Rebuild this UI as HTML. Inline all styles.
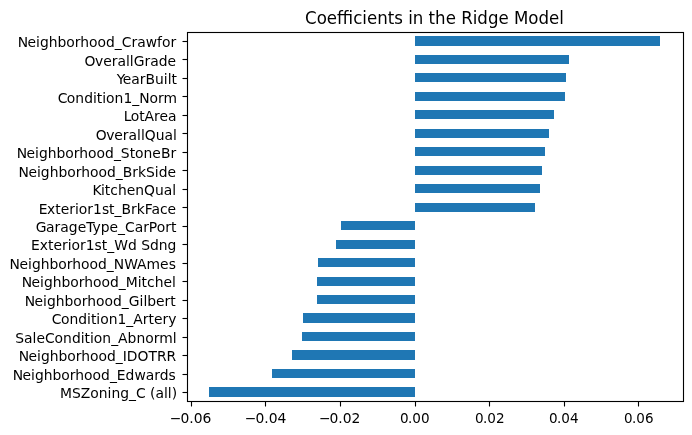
<!DOCTYPE html>
<html lang="en">
<head>
<meta charset="utf-8">
<title>Coefficients in the Ridge Model</title>
<style>
html,body{margin:0;padding:0;background:#fff;}
body{width:692px;height:435px;overflow:hidden;}
svg{display:block;}
text{font-family:"DejaVu Sans","Liberation Sans",sans-serif;fill:#000;}
.tick{font-size:13.889px;}
.title{font-size:16.667px;}
.bar{fill:#1f77b4;}
.ln{stroke:#000;stroke-width:1.111;fill:none;}
</style>
</head>
<body>
<svg width="692" height="435" viewBox="0 0 692 435">
<rect x="0" y="0" width="692" height="435" fill="#ffffff"/>
<g id="bars">
<rect class="bar" x="209" y="387" width="206" height="10"/>
<rect class="bar" x="272" y="369" width="143" height="9"/>
<rect class="bar" x="292" y="350" width="123" height="10"/>
<rect class="bar" x="302" y="332" width="113" height="9"/>
<rect class="bar" x="303" y="313" width="112" height="10"/>
<rect class="bar" x="317" y="295" width="98" height="9"/>
<rect class="bar" x="317" y="277" width="98" height="9"/>
<rect class="bar" x="318" y="258" width="97" height="9"/>
<rect class="bar" x="336" y="240" width="79" height="9"/>
<rect class="bar" x="341" y="221" width="74" height="9"/>
<rect class="bar" x="415" y="203" width="120" height="9"/>
<rect class="bar" x="415" y="184" width="125" height="9"/>
<rect class="bar" x="415" y="166" width="127" height="9"/>
<rect class="bar" x="415" y="147" width="130" height="9"/>
<rect class="bar" x="415" y="129" width="134" height="9"/>
<rect class="bar" x="415" y="110" width="139" height="9"/>
<rect class="bar" x="415" y="92" width="150" height="9"/>
<rect class="bar" x="415" y="73" width="151" height="9"/>
<rect class="bar" x="415" y="55" width="154" height="9"/>
<rect class="bar" x="415" y="36" width="245" height="10"/>
</g>
<g id="ticks">
<line class="ln" x1="191.5" y1="401.5" x2="191.5" y2="406.5"/>
<line class="ln" x1="265.5" y1="401.5" x2="265.5" y2="406.5"/>
<line class="ln" x1="340.5" y1="401.5" x2="340.5" y2="406.5"/>
<line class="ln" x1="415.5" y1="401.5" x2="415.5" y2="406.5"/>
<line class="ln" x1="489.5" y1="401.5" x2="489.5" y2="406.5"/>
<line class="ln" x1="564.5" y1="401.5" x2="564.5" y2="406.5"/>
<line class="ln" x1="638.5" y1="401.5" x2="638.5" y2="406.5"/>
<line class="ln" x1="182.5" y1="392.5" x2="187.5" y2="392.5"/>
<line class="ln" x1="182.5" y1="374.5" x2="187.5" y2="374.5"/>
<line class="ln" x1="182.5" y1="355.5" x2="187.5" y2="355.5"/>
<line class="ln" x1="182.5" y1="337.5" x2="187.5" y2="337.5"/>
<line class="ln" x1="182.5" y1="318.5" x2="187.5" y2="318.5"/>
<line class="ln" x1="182.5" y1="300.5" x2="187.5" y2="300.5"/>
<line class="ln" x1="182.5" y1="281.5" x2="187.5" y2="281.5"/>
<line class="ln" x1="182.5" y1="263.5" x2="187.5" y2="263.5"/>
<line class="ln" x1="182.5" y1="244.5" x2="187.5" y2="244.5"/>
<line class="ln" x1="182.5" y1="226.5" x2="187.5" y2="226.5"/>
<line class="ln" x1="182.5" y1="207.5" x2="187.5" y2="207.5"/>
<line class="ln" x1="182.5" y1="189.5" x2="187.5" y2="189.5"/>
<line class="ln" x1="182.5" y1="170.5" x2="187.5" y2="170.5"/>
<line class="ln" x1="182.5" y1="152.5" x2="187.5" y2="152.5"/>
<line class="ln" x1="182.5" y1="133.5" x2="187.5" y2="133.5"/>
<line class="ln" x1="182.5" y1="115.5" x2="187.5" y2="115.5"/>
<line class="ln" x1="182.5" y1="96.5" x2="187.5" y2="96.5"/>
<line class="ln" x1="182.5" y1="78.5" x2="187.5" y2="78.5"/>
<line class="ln" x1="182.5" y1="59.5" x2="187.5" y2="59.5"/>
<line class="ln" x1="182.5" y1="41.5" x2="187.5" y2="41.5"/>
</g>
<rect class="ln" x="187.5" y="32.5" width="496" height="369"/>
<g id="labels">
<text class="tick" text-anchor="middle" x="189.618" y="422.5" dx="1 -1">−0.06</text>
<text class="tick" text-anchor="middle" x="264.585" y="422.5" dx="1 -1">−0.04</text>
<text class="tick" text-anchor="middle" x="338.677" y="422.5" dx="1 -1">−0.02</text>
<text class="tick" text-anchor="middle" transform="translate(414.269 422.5) scale(0.979 1)" dx="0.5 -0.5">0.00</text>
<text class="tick" text-anchor="middle" transform="translate(489.111 422.5) scale(0.977 1)" dx="0.75 -0.75">0.02</text>
<text class="tick" text-anchor="middle" transform="translate(563.078 422.5) scale(0.976 1)" dx="0.75 -0.75">0.04</text>
<text class="tick" text-anchor="middle" transform="translate(638.233 422.5) scale(0.974 1)" dx="0.5 -0.5">0.06</text>
<text class="tick" text-anchor="end" x="177.125" y="397.538">MSZoning_C (all)</text>
<text class="tick" text-anchor="end" x="175.25" y="379.558" dx="0.5 -0.5">Neighborhood_Edwards</text>
<text class="tick" text-anchor="end" x="175.75" y="360.578" dx="0.5 -0.5">Neighborhood_IDOTRR</text>
<text class="tick" text-anchor="end" x="176.5" y="342.598">SaleCondition_Abnorml</text>
<text class="tick" text-anchor="end" x="175.875" y="323.618" dx="0.5 -0.5">Condition1_Artery</text>
<text class="tick" text-anchor="end" x="175.25" y="305.638" dx="0.5 -0.5">Neighborhood_Gilbert</text>
<text class="tick" text-anchor="end" x="175.375" y="286.658" dx="0.5 -0.5">Neighborhood_Mitchel</text>
<text class="tick" text-anchor="end" x="175.375" y="268.678" dx="0.5 -0.5">Neighborhood_NWAmes</text>
<text class="tick" text-anchor="end" x="176.375" y="249.698">Exterior1st_Wd Sdng</text>
<text class="tick" text-anchor="end" x="175.875" y="231.647" dx="0.5 -0.5">GarageType_CarPort</text>
<text class="tick" text-anchor="end" x="175.625" y="213.738" dx="0.5 -0.5">Exterior1st_BrkFace</text>
<text class="tick" text-anchor="end" x="175.625" y="194.508" dx="0.5 -0.5">KitchenQual</text>
<text class="tick" text-anchor="end" x="175.5" y="176.528" dx="0.5 -0.5">Neighborhood_BrkSide</text>
<text class="tick" text-anchor="end" x="175.625" y="157.548" dx="0.5 -0.5">Neighborhood_StoneBr</text>
<text class="tick" text-anchor="end" x="176.375" y="139.568" dx="0.5 -0.5">OverallQual</text>
<text class="tick" text-anchor="end" x="176" y="120.588" dx="0.5 -0.5">LotArea</text>
<text class="tick" text-anchor="end" x="176.5" y="102.608" dx="0.5 -0.5">Condition1_Norm</text>
<text class="tick" text-anchor="end" x="176.5" y="83.628" dx="0.5 -0.5">YearBuilt</text>
<text class="tick" text-anchor="end" x="175.5" y="65.648" dx="0.5 -0.5">OverallGrade</text>
<text class="tick" text-anchor="end" x="175.625" y="46.668" dx="0.5 -0.5">Neighborhood_Crawfor</text>
<text class="title" text-anchor="middle" transform="translate(434.472 23.532) scale(0.998 1.08)">Coefficients in the Ridge Model</text>
</g>
</svg>
</body>
</html>
